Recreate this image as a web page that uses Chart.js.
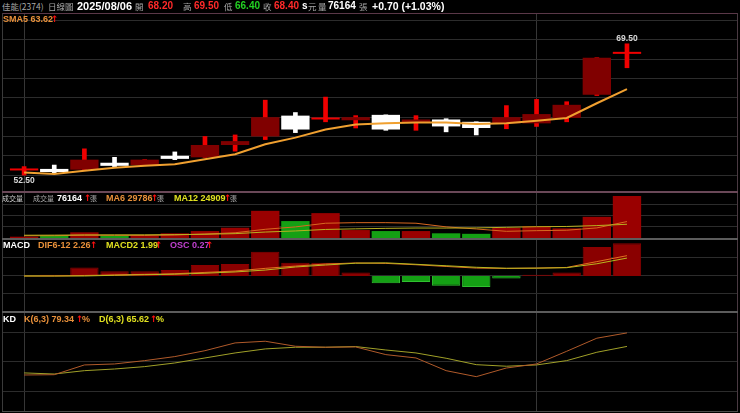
<!DOCTYPE html>
<html>
<head>
<meta charset="utf-8">
<title>佳能(2374) 日線圖</title>
<script src="https://cdn.jsdelivr.net/npm/chart.js@4.4.1/dist/chart.umd.min.js"></script>
<style>
  html, body { margin: 0; padding: 0; background: #000; }
  body { position: relative; width: 740px; height: 413px; overflow: hidden;
         font-family: "Liberation Sans", "Noto Sans CJK TC", sans-serif; }
  canvas { position: absolute; left: 3px; }
  .t { position: absolute; white-space: nowrap; font-size: 9px; line-height: 10px; color: #a8a8a8; font-weight: bold; }
  .h { font-size: 10px; line-height: 12px; top: 0; }
  .big { font-size: 11px; }
  .c { font-family: "Noto Sans CJK TC", sans-serif; font-weight: normal; font-size: 7.5px; color: #a8a8a8; }
  .hc { font-size: 8.5px; }
  .w { color: #ffffff; }
  .r { color: #ff2a2a; }
  .gr { color: #22d022; }
  .o { color: #e8903a; }
  .y { color: #e0e020; }
  .m { color: #c040d0; }
  .up { color: #ff1010; font-family: "DejaVu Sans", sans-serif; font-size: 9px; font-weight: bold; }
  .ln { position: absolute; }
</style>
</head>
<body>
<!-- panel frame -->
<div class="ln" style="left:2px;top:13px;width:736px;height:1px;background:#5a3848"></div>
<div class="ln" style="left:2px;top:13px;width:1px;height:399px;background:#3a3a3a"></div>
<div class="ln" style="left:737px;top:13px;width:1px;height:399px;background:#4a3a42"></div>
<div class="ln" style="left:2px;top:191px;width:736px;height:2px;background:#6a4858"></div>
<div class="ln" style="left:2px;top:238px;width:736px;height:2px;background:#5c5c5c"></div>
<div class="ln" style="left:2px;top:311px;width:736px;height:2px;background:#5c5c5c"></div>
<div class="ln" style="left:2px;top:411px;width:736px;height:1px;background:#4a4a4a"></div>

<canvas id="main" width="734" height="177" style="top:14px"></canvas>
<canvas id="vol" width="734" height="45" style="top:193px"></canvas>
<canvas id="macd" width="734" height="71" style="top:240px"></canvas>
<canvas id="kd" width="734" height="98" style="top:313px"></canvas>

<!-- header -->
<span class="t h c hc" style="left:2px">佳能(2374)</span>
<span class="t h c hc" style="left:48px">日線圖</span>
<span class="t h big w" style="left:77px">2025/08/06</span>
<span class="t h c hc" style="left:135px">開</span>
<span class="t h r" style="left:148px">68.20</span>
<span class="t h c hc" style="left:183px">高</span>
<span class="t h r" style="left:194px">69.50</span>
<span class="t h c hc" style="left:224px">低</span>
<span class="t h gr" style="left:235px">66.40</span>
<span class="t h c hc" style="left:263px">收</span>
<span class="t h r" style="left:274px">68.40</span>
<span class="t h w" style="left:302px">s</span>
<span class="t h c hc" style="left:308px">元</span>
<span class="t h c hc" style="left:318px">量</span>
<span class="t h w" style="left:328px">76164</span>
<span class="t h c hc" style="left:359px">張</span>
<span class="t h w" style="left:372px;font-size:10.5px">+0.70 (+1.03%)</span>

<span class="t o" style="left:3px;top:14px">SMA5 63.62</span>
<span class="t up" style="left:51px;top:14px">↑</span>

<span class="t c" style="left:2px;top:193px;color:#cccccc;font-size:7px">成交量</span>
<span class="t c" style="left:33px;top:193px;font-size:7px">成交量</span>
<span class="t w" style="left:57px;top:193px">76164</span>
<span class="t up" style="left:84px;top:193px">↑</span>
<span class="t c" style="left:90px;top:193px;font-size:7px">張</span>
<span class="t o" style="left:106px;top:193px">MA6 29786</span>
<span class="t up" style="left:151px;top:193px">↑</span>
<span class="t c" style="left:157px;top:193px;font-size:7px">張</span>
<span class="t y" style="left:174px;top:193px">MA12 24909</span>
<span class="t up" style="left:224px;top:193px">↑</span>
<span class="t c" style="left:230px;top:193px;font-size:7px">張</span>

<span class="t w" style="left:3px;top:240px">MACD</span>
<span class="t o" style="left:38px;top:240px">DIF6-12 2.26</span>
<span class="t up" style="left:90px;top:240px">↑</span>
<span class="t y" style="left:106px;top:240px">MACD2 1.99</span>
<span class="t up" style="left:155px;top:240px">↑</span>
<span class="t m" style="left:170px;top:240px">OSC 0.27</span>
<span class="t up" style="left:206px;top:240px">↑</span>

<span class="t w" style="left:3px;top:314px">KD</span>
<span class="t o" style="left:24px;top:314px">K(6,3) 79.34</span>
<span class="t up" style="left:76px;top:314px">↑</span>
<span class="t o" style="left:82px;top:314px">%</span>
<span class="t y" style="left:99px;top:314px">D(6,3) 65.62</span>
<span class="t up" style="left:150px;top:314px">↑</span>
<span class="t y" style="left:156px;top:314px">%</span>

<script>
// daily candles, oldest first (last one = 2025/08/06)
const OPEN  = [53.10, 53.30, 53.20, 54.10, 53.80, 55.00, 54.80, 56.40, 57.50, 60.20, 59.70, 59.60, 60.30, 59.30, 59.70, 59.40, 59.20, 59.20, 59.90, 62.90, 68.20];
const HIGH  = [53.60, 53.80, 55.90, 54.80, 54.50, 55.50, 57.50, 57.70, 62.20, 60.60, 62.60, 60.20, 60.30, 60.20, 59.80, 59.40, 61.50, 62.30, 62.00, 67.70, 69.50];
const LOW   = [52.50, 52.80, 53.10, 53.60, 53.80, 54.50, 54.80, 55.60, 57.10, 58.00, 59.40, 58.60, 58.30, 58.30, 58.10, 57.70, 58.50, 58.80, 59.40, 62.80, 66.40];
const CLOSE = [53.20, 52.90, 54.50, 53.70, 54.50, 54.60, 56.40, 56.90, 60.00, 58.40, 59.80, 60.00, 58.40, 59.70, 58.80, 58.60, 60.00, 60.40, 61.60, 67.70, 68.40];
const SMA5  = [52.85, 52.65, 53.05, 53.45, 53.70, 53.90, 54.55, 55.20, 56.50, 57.35, 58.40, 59.05, 59.20, 59.30, 59.30, 59.10, 59.20, 59.55, 59.90, 61.80, 63.62];

// volume (張)
const VOLUME   = [2350, 4150, 10300, 4150, 4150, 8500, 12600, 18600, 49300, 30700, 45100, 14400, 12600, 12600, 8500, 7600, 18600, 21600, 17500, 38400, 76164];
const VOL_MA6  = [4000, 4200, 5000, 4800, 4600, 5500, 7200, 9500, 15800, 20100, 26800, 27800, 27800, 26800, 20200, 16400, 12100, 13300, 14100, 18300, 29786];
const VOL_MA12 = [5000, 5200, 5600, 5700, 5800, 6100, 6800, 7900, 10800, 12800, 15500, 16600, 17500, 18100, 18000, 18300, 19400, 20500, 20900, 22500, 24909];

// MACD
const DIF  = [0.00, 0.00, 0.06, 0.12, 0.18, 0.25, 0.40, 0.55, 0.85, 1.10, 1.33, 1.45, 1.40, 1.25, 1.06, 0.88, 0.84, 0.88, 0.95, 1.60, 2.26];
const MACD = [0.00, 0.00, 0.00, 0.08, 0.14, 0.20, 0.31, 0.45, 0.66, 1.00, 1.22, 1.42, 1.46, 1.30, 1.14, 0.97, 0.86, 0.87, 0.92, 1.36, 1.99];
const OSC  = [0.00, 0.01, 0.07, 0.04, 0.04, 0.05, 0.09, 0.10, 0.20, 0.11, 0.11, 0.03, -0.06, -0.05, -0.08, -0.09, -0.02, 0.01, 0.03, 0.24, 0.27];

// KD
const K_LINE = [36.6, 36.9, 46.8, 47.8, 51.2, 55.3, 61.3, 69.2, 70.9, 65.8, 64.8, 65.1, 57.3, 53.9, 41.0, 34.9, 43.7, 47.8, 60.7, 74.0, 79.34];
const D_LINE = [38.7, 37.6, 41.0, 42.7, 45.1, 48.8, 53.9, 59.0, 63.1, 64.8, 64.8, 65.5, 62.0, 59.0, 53.6, 47.1, 45.5, 46.8, 51.2, 59.7, 65.62];

const PRICE_GRID = [52.5, 55, 57.5, 60, 62.5, 65, 67.5, 70, 72.5];
const VOL_GRID = [20000, 40000, 60000];
const MACD_GRID = [-2, 0, 2];
const KD_GRID = [20, 50, 80];
const V_LINES = [0, 17];

const X_MIN = -0.70, X_MAX = 23.65;
const idx = CLOSE.map((_, i) => i);
const pts = (arr) => idx.map((i) => ({ x: i, y: arr[i] }));

function xAxis() {
    return {
        type: "linear", min: X_MIN, max: X_MAX, offset: false,
        ticks: { display: false }, border: { display: false },
        grid: { color: "#363636", drawTicks: false, offset: false },
        afterBuildTicks: (s) => { s.ticks = V_LINES.map((v) => ({ value: v })); },
    };
}

function yAxis(min, max, lines) {
    return {
        min, max,
        ticks: { display: false }, border: { display: false },
        grid: { color: "#2c2c2c", drawTicks: false },
        afterBuildTicks: (s) => { s.ticks = lines.map((v) => ({ value: v })); },
    };
}

const base = {
    responsive: false,
    animation: false,
    devicePixelRatio: 1,
    events: [],
    layout: { padding: 0, autoPadding: false },
    plugins: { legend: { display: false }, tooltip: { enabled: false } },
};

// high / low price tags on the candles
const hiLoLabels = {
    id: "hiLoLabels",
    afterDatasetsDraw(chart) {
        const { ctx, scales: { x, y } } = chart;
        const hi = HIGH.indexOf(Math.max(...HIGH));
        const lo = LOW.indexOf(Math.min(...LOW));
        ctx.save();
        ctx.font = "bold 8.5px 'Liberation Sans'";
        ctx.fillStyle = "#d8d8d8";
        ctx.textAlign = "center";
        ctx.textBaseline = "bottom";
        ctx.fillText(HIGH[hi].toFixed(2), x.getPixelForValue(hi), y.getPixelForValue(HIGH[hi]) - 1);
        ctx.textBaseline = "top";
        ctx.fillText(LOW[lo].toFixed(2), x.getPixelForValue(lo), y.getPixelForValue(LOW[lo]) + 1);
        ctx.restore();
    },
};

const bodyColor = idx.map((i) => {
    if (CLOSE[i] < OPEN[i]) return "#ffffff";
    return CLOSE[i] - OPEN[i] < 0.25 ? "#f00000" : "#800000";
});
const wickColor = idx.map((i) => (CLOSE[i] < OPEN[i] ? "#ffffff" : "#f00000"));

new Chart(document.getElementById("main"), {
    type: "bar",
    data: {
        datasets: [
            {
                label: "wick",
                data: idx.map((i) => ({ x: i, y: [LOW[i], HIGH[i]] })),
                backgroundColor: wickColor,
                barThickness: 4,
                grouped: false,
                order: 3,
            },
            {
                label: "body",
                data: idx.map((i) => ({ x: i, y: [OPEN[i], CLOSE[i]] })),
                backgroundColor: bodyColor,
                barPercentage: 0.94,
                categoryPercentage: 1,
                minBarLength: 2,
                grouped: false,
                order: 2,
            },
            {
                type: "line",
                label: "SMA5",
                data: pts(SMA5),
                borderColor: "#f0a030",
                borderWidth: 2,
                pointRadius: 0,
                tension: 0,
                order: 1,
            },
        ],
    },
    options: { ...base, scales: { x: xAxis(), y: yAxis(50.44, 73.36, PRICE_GRID) } },
    plugins: [hiLoLabels],
});

// volume colour follows the change against the previous close
const volColor = idx.map((i) => (i === 0 || CLOSE[i] >= CLOSE[i - 1] ? "#9a0000" : "#14a014"));

new Chart(document.getElementById("vol"), {
    type: "bar",
    data: {
        datasets: [
            {
                label: "成交量",
                data: pts(VOLUME),
                backgroundColor: volColor,
                barPercentage: 0.94,
                categoryPercentage: 1,
                grouped: false,
                order: 3,
            },
            {
                type: "line", label: "MA6", data: pts(VOL_MA6),
                borderColor: "#d86820", borderWidth: 1, pointRadius: 0, tension: 0, order: 2,
            },
            {
                type: "line", label: "MA12", data: pts(VOL_MA12),
                borderColor: "#b8b020", borderWidth: 1, pointRadius: 0, tension: 0, order: 1,
            },
        ],
    },
    options: { ...base, scales: { x: xAxis(), y: yAxis(0, 81600, VOL_GRID) } },
});

new Chart(document.getElementById("macd"), {
    type: "bar",
    data: {
        datasets: [
            {
                label: "OSC",
                data: pts(OSC),
                yAxisID: "y2",
                backgroundColor: OSC.map((v) => (v >= 0 ? "#8a0000" : "#14a014")),
                borderColor: OSC.map((v) => (v >= 0 ? "#8a0000" : "#30c030")),
                borderWidth: 1,
                barPercentage: 0.94,
                categoryPercentage: 1,
                grouped: false,
                order: 3,
            },
            {
                type: "line", label: "DIF6-12", data: pts(DIF),
                borderColor: "#e07020", borderWidth: 1, pointRadius: 0, tension: 0, order: 2,
            },
            {
                type: "line", label: "MACD2", data: pts(MACD),
                borderColor: "#b8b820", borderWidth: 1, pointRadius: 0, tension: 0, order: 1,
            },
        ],
    },
    options: {
        ...base,
        scales: {
            x: xAxis(),
            y: yAxis(-3.89, 4.0, MACD_GRID),
            y2: { display: false, min: -0.289, max: 0.2975 },
        },
    },
});

new Chart(document.getElementById("kd"), {
    type: "line",
    data: {
        datasets: [
            {
                label: "K(6,3)", data: pts(K_LINE),
                borderColor: "#b05a2a", borderWidth: 1, pointRadius: 0, tension: 0,
            },
            {
                label: "D(6,3)", data: pts(D_LINE),
                borderColor: "#a0a028", borderWidth: 1, pointRadius: 0, tension: 0,
            },
        ],
    },
    options: { ...base, scales: { x: xAxis(), y: yAxis(0, 99.6, KD_GRID) } },
});
</script>
</body>
</html>
